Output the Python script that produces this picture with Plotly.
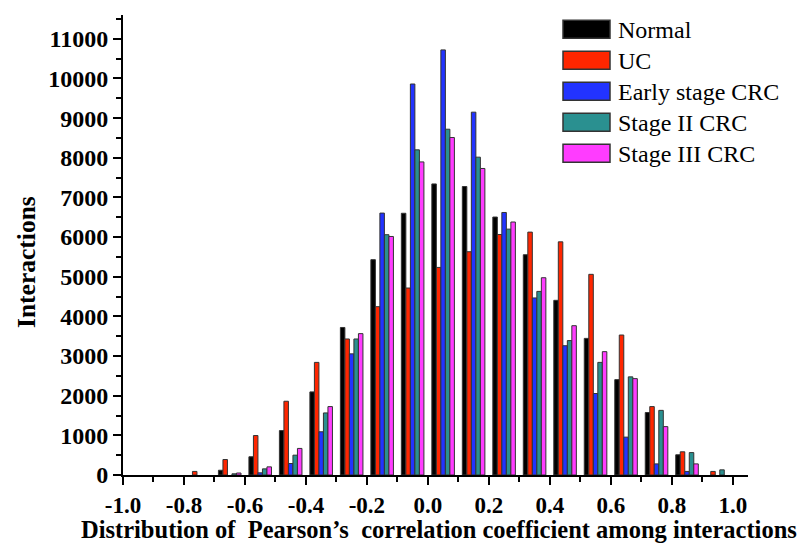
import plotly.graph_objects as go

# ---- data ----
bin_centers = [-0.95, -0.85, -0.75, -0.65, -0.55, -0.45, -0.35, -0.25, -0.15, -0.05,
               0.05, 0.15, 0.25, 0.35, 0.45, 0.55, 0.65, 0.75, 0.85, 0.95]
normal = [0, 0, 0, 120, 460, 1120, 2095, 3720, 5430, 6600,
          7340, 7275, 6505, 5555, 4405, 3445, 2405, 1575, 510, 0]
uc = [0, 0, 90, 390, 995, 1860, 2840, 3430, 4245, 4715,
      5235, 5630, 6065, 6125, 5880, 5060, 3530, 1725, 585, 90]
early_crc = [0, 0, 0, 0, 55, 290, 1090, 3055, 6605, 9860,
             10720, 9150, 6620, 4465, 3260, 2055, 955, 280, 90, 0]
stage2_crc = [0, 0, 0, 30, 155, 500, 1565, 3430, 6060, 8200,
              8720, 8015, 6200, 4630, 3390, 2840, 2475, 1630, 565, 130]
stage3_crc = [0, 0, 0, 50, 205, 670, 1725, 3565, 6015, 7895,
              8510, 7730, 6380, 4975, 3765, 3110, 2430, 1220, 280, 0]

series_names = ["Normal", "UC", "Early stage CRC", "Stage II CRC", "Stage III CRC"]
series_values = [normal, uc, early_crc, stage2_crc, stage3_crc]
series_colors = ["#000000", "#ff2600", "#2233ff", "#2a9090", "#ff3cff"]

x_tickvals = [-1.0, -0.8, -0.6, -0.4, -0.2, 0.0, 0.2, 0.4, 0.6, 0.8, 1.0]
x_ticktext = ["-1.0", "-0.8", "-0.6", "-0.4", "-0.2", "0.0", "0.2", "0.4", "0.6", "0.8", "1.0"]

FONT = "Liberation Serif"
W, H = 800, 543
ML, MR, MT, MB = 123, 52, 15, 68
PW, PH = W - ML - MR, H - MT - MB


def px_x(px):
    return (px - ML) / PW


def px_y(py):
    return (H - MB - py) / PH


fig = go.Figure()
for name, vals, col in zip(series_names, series_values, series_colors):
    fig.add_trace(go.Bar(
        x=bin_centers, y=vals, name=name, showlegend=False,
        marker=dict(color=col,
                    line=dict(color="#333333", width=[1 if v > 0 else 0 for v in vals])),
    ))

# legend drawn as swatches + labels
shapes = []
annotations = []
for i, (name, col) in enumerate(zip(series_names, series_colors)):
    cy = 29.2 + i * 31.0
    shapes.append(dict(type="rect", xref="paper", yref="paper",
                       x0=px_x(563), x1=px_x(610), y0=px_y(cy + 9), y1=px_y(cy - 9),
                       fillcolor=col, line=dict(color="#333333", width=1.5)))
    annotations.append(dict(text=name, xref="paper", yref="paper",
                            x=px_x(616), y=px_y(cy + 1), xanchor="left", yanchor="middle",
                            showarrow=False,
                            font=dict(family=FONT, size=24, color="black")))

annotations += [
    dict(text="Distribution of&nbsp; Pearson’s&nbsp; correlation coefficient among interactions",
         xref="paper", yref="paper", x=px_x(438.5), y=px_y(529), xanchor="center", yanchor="middle",
         showarrow=False, font=dict(family=FONT, size=24.5, color="black", weight="bold")),
    dict(text="Interactions", xref="paper", yref="paper", x=px_x(26), y=px_y(262),
         xanchor="center", yanchor="middle", textangle=-90,
         showarrow=False, font=dict(family=FONT, size=25.5, color="black", weight="bold")),
]

fig.update_layout(
    width=W, height=H,
    barmode="group", bargap=0.26, bargroupgap=0.0,
    plot_bgcolor="white", paper_bgcolor="white",
    margin=dict(l=ML, r=MR, t=MT, b=MB, autoexpand=False),
    showlegend=False,
    xaxis=dict(
        range=[-1.0, 1.05], showgrid=False, zeroline=False,
        showline=True, linecolor="black", linewidth=2,
        ticks="outside", ticklen=8, tickwidth=2, tickcolor="black",
        tickvals=x_tickvals, ticktext=x_ticktext,
        minor=dict(dtick=0.1, tick0=-1.0, ticks="outside", ticklen=5, tickwidth=2, tickcolor="black"),
        tickfont=dict(family=FONT, size=23, color="black", weight="bold"),
    ),
    yaxis=dict(
        range=[0, 11600], showgrid=False, zeroline=False,
        showline=True, linecolor="black", linewidth=2,
        ticks="outside", ticklen=8, tickwidth=2, tickcolor="black",
        dtick=1000, tick0=0, tickformat="d",
        minor=dict(dtick=500, ticks="outside", ticklen=5, tickwidth=2, tickcolor="black"),
        tickfont=dict(family=FONT, size=24, color="black", weight="bold"),
    ),
    shapes=shapes,
    annotations=annotations,
)

fig.write_html("out.html", config={"displayModeBar": False},
               post_script="document.body.style.margin='0';")
